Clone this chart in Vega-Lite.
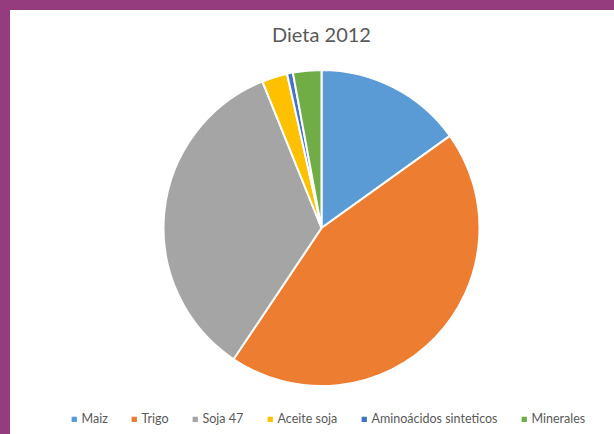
{
  "$schema": "https://vega.github.io/schema/vega-lite/v6.json",
  "width": 623,
  "height": 436,
  "autosize": {"type": "none"},
  "padding": {"left": 10, "top": 10, "right": -19, "bottom": -12},
  "background": "#943C7E",
  "view": {"fill": "white", "stroke": null},
  "title": {
    "text": "Dieta 2012",
    "anchor": "middle",
    "font": "Lato",
    "fontSize": 20,
    "fontWeight": "normal",
    "color": "#595959",
    "dy": 40
  },
  "data": {
    "values": [
      {"ingrediente": "Maiz", "valor": 15.1, "orden": 1},
      {"ingrediente": "Trigo", "valor": 44.3, "orden": 2},
      {"ingrediente": "Soja 47", "valor": 34.5, "orden": 3},
      {"ingrediente": "Aceite soja", "valor": 2.6, "orden": 4},
      {"ingrediente": "Aminoácidos sinteticos", "valor": 0.6, "orden": 5},
      {"ingrediente": "Minerales", "valor": 2.9, "orden": 6}
    ]
  },
  "mark": {"type": "arc", "outerRadius": 158, "stroke": "white", "strokeWidth": 2},
  "encoding": {
    "theta": {"field": "valor", "type": "quantitative", "stack": true},
    "order": {"field": "orden", "type": "quantitative"},
    "color": {
      "field": "ingrediente",
      "type": "nominal",
      "sort": ["Maiz", "Trigo", "Soja 47", "Aceite soja", "Aminoácidos sinteticos", "Minerales"],
      "scale": {
        "domain": ["Maiz", "Trigo", "Soja 47", "Aceite soja", "Aminoácidos sinteticos", "Minerales"],
        "range": ["#5B9BD5", "#ED7D31", "#A5A5A5", "#FFC000", "#4472C4", "#70AD47"]
      },
      "legend": {
        "orient": "none",
        "legendX": 58,
        "legendY": 403,
        "direction": "horizontal",
        "title": null,
        "symbolType": "square",
        "symbolSize": 28,
        "symbolStrokeWidth": 0,
        "labelFont": "Lato",
        "labelFontSize": 12.5,
        "labelColor": "#595959",
        "labelOffset": 1,
        "columnPadding": 20
      }
    }
  }
}
